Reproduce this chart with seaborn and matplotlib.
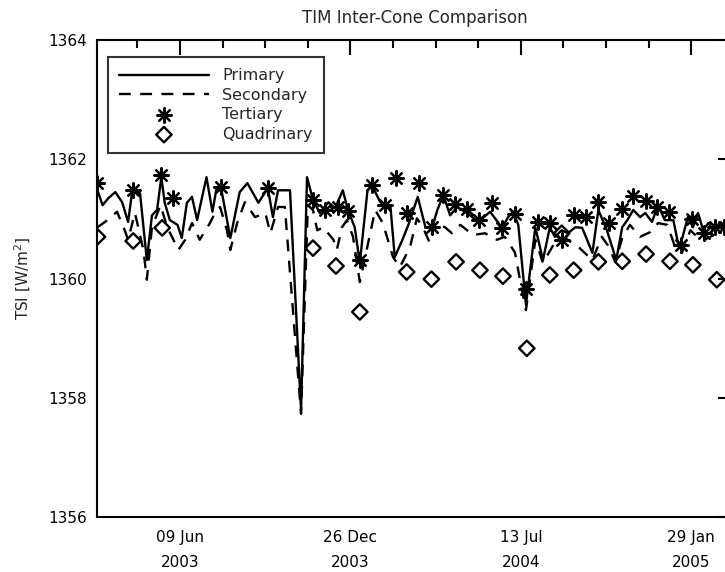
import matplotlib
matplotlib.use("Agg")
import matplotlib.pyplot as plt
import matplotlib.dates as mdates
import matplotlib.ticker as mticker
import seaborn as sns
import pandas as pd

# days since 2003-01-01 and TSI values [W/m^2]
primary_day = [62, 68, 75, 83, 91, 98, 103, 112, 120, 126, 132, 137, 141, 147, 156, 161,
               167, 173, 179, 190, 197, 202, 208, 218, 229, 238, 251, 262, 268, 274, 288,
               301, 308, 315, 323, 333, 341, 350, 356, 364, 370, 379, 384, 394, 406, 411,
               420, 427, 438, 447, 455, 461, 468, 476, 484, 496, 509, 523, 537, 544, 550,
               556, 565, 576, 585, 593, 599, 607, 614, 623, 631, 643, 650, 660, 671, 678,
               684, 691, 699, 705, 713, 720, 728, 738, 744, 748, 755, 761, 767, 773, 779,
               785, 791, 795]
primary_tsi = [1361.48, 1361.23, 1361.35, 1361.45, 1361.28, 1360.95, 1361.48, 1361.43,
               1360.31, 1361.06, 1361.15, 1361.70, 1361.27, 1360.98, 1360.90, 1360.68,
               1361.27, 1361.37, 1360.98, 1361.70, 1361.12, 1361.53, 1361.45, 1360.68,
               1361.45, 1361.60, 1361.27, 1361.52, 1361.03, 1361.48, 1361.48, 1357.79,
               1361.70, 1361.32, 1361.10, 1361.28, 1361.18, 1361.48, 1361.15, 1360.86,
               1360.26, 1361.48, 1361.57, 1361.28, 1361.20, 1360.36, 1360.65, 1360.90,
               1361.37, 1360.86, 1360.86, 1361.15, 1361.40, 1361.06, 1361.20, 1361.10,
               1360.95, 1361.12, 1360.85, 1361.03, 1361.12, 1360.90, 1359.56, 1360.86,
               1360.31, 1360.86, 1360.70, 1360.81, 1360.76, 1360.86, 1360.85, 1360.43,
               1361.15, 1360.81, 1360.31, 1360.86, 1360.98, 1361.15, 1361.03, 1361.10,
               1360.95, 1361.23, 1360.98, 1360.98, 1360.56, 1360.65, 1361.03, 1360.86,
               1361.10, 1360.81, 1360.93, 1360.81, 1360.86, 1360.93]

secondary_day = [62, 71, 85, 94, 98, 106, 116, 120, 126, 136, 144, 157, 165, 173, 182, 194,
                 200, 206, 214, 218, 226, 235, 247, 259, 265, 274, 282, 301, 309, 315, 320,
                 327, 339, 343, 349, 355, 362, 370, 388, 397, 409, 417, 429, 437, 444, 452,
                 458, 470, 478, 488, 503, 517, 531, 540, 552, 558, 565, 576, 585, 597, 611,
                 628, 643, 654, 661, 670, 678, 687, 699, 711, 720, 731, 740, 748, 758, 766,
                 775, 785, 793]
secondary_tsi = [1360.86, 1360.95, 1361.12, 1360.81, 1360.65, 1361.10, 1360.48, 1359.98,
                 1360.86, 1361.23, 1360.86, 1360.48, 1360.65, 1360.93, 1360.65, 1360.93,
                 1361.10, 1361.20, 1360.81, 1360.48, 1360.93, 1361.28, 1361.03, 1361.10,
                 1360.76, 1361.20, 1361.20, 1357.73, 1361.23, 1361.15, 1360.81, 1360.86,
                 1360.65, 1360.48, 1360.86, 1360.98, 1360.70, 1359.94, 1361.15, 1360.93,
                 1360.36, 1360.19, 1360.53, 1361.01, 1360.86, 1360.60, 1360.93, 1360.86,
                 1360.76, 1360.90, 1360.73, 1360.76, 1360.65, 1360.70, 1360.44, 1359.98,
                 1359.47, 1360.65, 1360.26, 1360.56, 1360.68, 1360.51, 1360.31, 1360.70,
                 1360.56, 1360.28, 1360.68, 1360.90, 1360.70, 1360.78, 1360.93, 1360.90,
                 1360.53, 1360.43, 1360.81, 1360.70, 1360.65, 1360.73, 1360.61]

tertiary_day = [62, 104, 137, 151, 207, 262, 315, 329, 344, 356, 370, 384, 399, 412, 425,
                440, 455, 468, 482, 496, 510, 525, 537, 552, 565, 579, 593, 607, 621, 636,
                650, 663, 678, 691, 706, 719, 733, 747, 760, 774, 787, 797]
tertiary_tsi = [1361.60, 1361.48, 1361.74, 1361.35, 1361.53, 1361.52, 1361.32, 1361.15,
                1361.20, 1361.13, 1360.31, 1361.57, 1361.23, 1361.69, 1361.10, 1361.60,
                1360.86, 1361.40, 1361.25, 1361.17, 1360.98, 1361.27, 1360.85, 1361.08,
                1359.82, 1360.95, 1360.93, 1360.65, 1361.06, 1361.03, 1361.28, 1360.93,
                1361.17, 1361.38, 1361.30, 1361.20, 1361.12, 1360.56, 1361.00, 1360.76,
                1360.86, 1360.86]

quad_day = [62, 104, 138, 315, 342, 370, 425, 454, 483, 511, 538, 566, 593, 607, 621, 650,
            678, 706, 734, 761, 789]
quad_tsi = [1360.70, 1360.63, 1360.85, 1360.51, 1360.21, 1359.44, 1360.11, 1359.99,
            1360.28, 1360.14, 1360.04, 1358.83, 1360.06, 1360.76, 1360.14, 1360.28,
            1360.29, 1360.41, 1360.29, 1360.23, 1359.98]

major_dates = ["2003-06-09", "2003-12-26", "2004-07-13", "2005-01-29"]

t0 = pd.Timestamp("2003-01-01")


def to_frame(days, tsi):
    return pd.DataFrame({"date": t0 + pd.to_timedelta(days, unit="D"), "tsi": tsi})


prim = to_frame(primary_day, primary_tsi)
sec = to_frame(secondary_day, secondary_tsi)
ter = to_frame(tertiary_day, tertiary_tsi)
quad = to_frame(quad_day, quad_tsi)

sns.set_style("white")
plt.rcParams["font.family"] = ["DejaVu Sans"]

fig = plt.figure(figsize=(7.25, 5.72), dpi=100)
# the right edge of the frame runs just past the picture, as in the original
ax = fig.add_axes([0.1338, 0.0961, 0.8772, 0.8339])

sns.lineplot(data=prim, x="date", y="tsi", color="k", lw=1.7, estimator=None,
             ax=ax, label="Primary")
sns.lineplot(data=sec, x="date", y="tsi", color="k", lw=1.7, estimator=None,
             linestyle=(0, (5, 4)), ax=ax, label="Secondary")
sns.scatterplot(data=ter, x="date", y="tsi", marker=(8, 2, 0), s=110, color="k",
                linewidth=1.6, ax=ax, label="Tertiary", zorder=3)
sns.scatterplot(data=quad, x="date", y="tsi", marker="D", s=62, facecolor="none",
                edgecolor="k", linewidth=1.7, ax=ax, label="Quadrinary", zorder=3)

ax.set_xlim(t0 + pd.Timedelta(days=61.5), t0 + pd.Timedelta(days=808))
ax.set_ylim(1356, 1364)

ax.xaxis.set_major_locator(mticker.FixedLocator(mdates.date2num(pd.to_datetime(major_dates))))
ax.xaxis.set_minor_locator(mticker.FixedLocator(
    mdates.date2num(pd.date_range("2003-04-20", "2005-03-20", freq="50D"))))
ax.xaxis.set_major_formatter(mdates.DateFormatter("%d %b\n%Y"))
ax.yaxis.set_major_locator(mticker.MultipleLocator(2))
ax.yaxis.set_minor_locator(mticker.MultipleLocator(0.5))

ax.tick_params(which="both", direction="in", top=True, right=True, width=1.5,
               labelsize=11, colors="k")
ax.tick_params(which="major", length=11)
ax.tick_params(which="minor", length=6)
ax.tick_params(axis="x", pad=9)
ax.tick_params(axis="y", pad=7)
for lab in ax.get_xticklabels():
    lab.set_linespacing(1.9)
for sp in ax.spines.values():
    sp.set_linewidth(1.5)
    sp.set_color("k")

ax.set_xlabel("")
ax.set_ylabel("TSI [W/m$^2$]", fontsize=11, labelpad=11)
ax.set_title("TIM Inter-Cone Comparison", fontsize=12, pad=12)

leg = ax.legend(loc="upper left", bbox_to_anchor=(0.0173, 0.964), fontsize=11.5,
                frameon=True, fancybox=False, handlelength=5.6, handletextpad=0.85,
                borderpad=0.7, labelspacing=0.28, borderaxespad=0)
leg.get_frame().set_edgecolor("k")
leg.get_frame().set_linewidth(1.5)

fig.savefig("out.png", dpi=100)
